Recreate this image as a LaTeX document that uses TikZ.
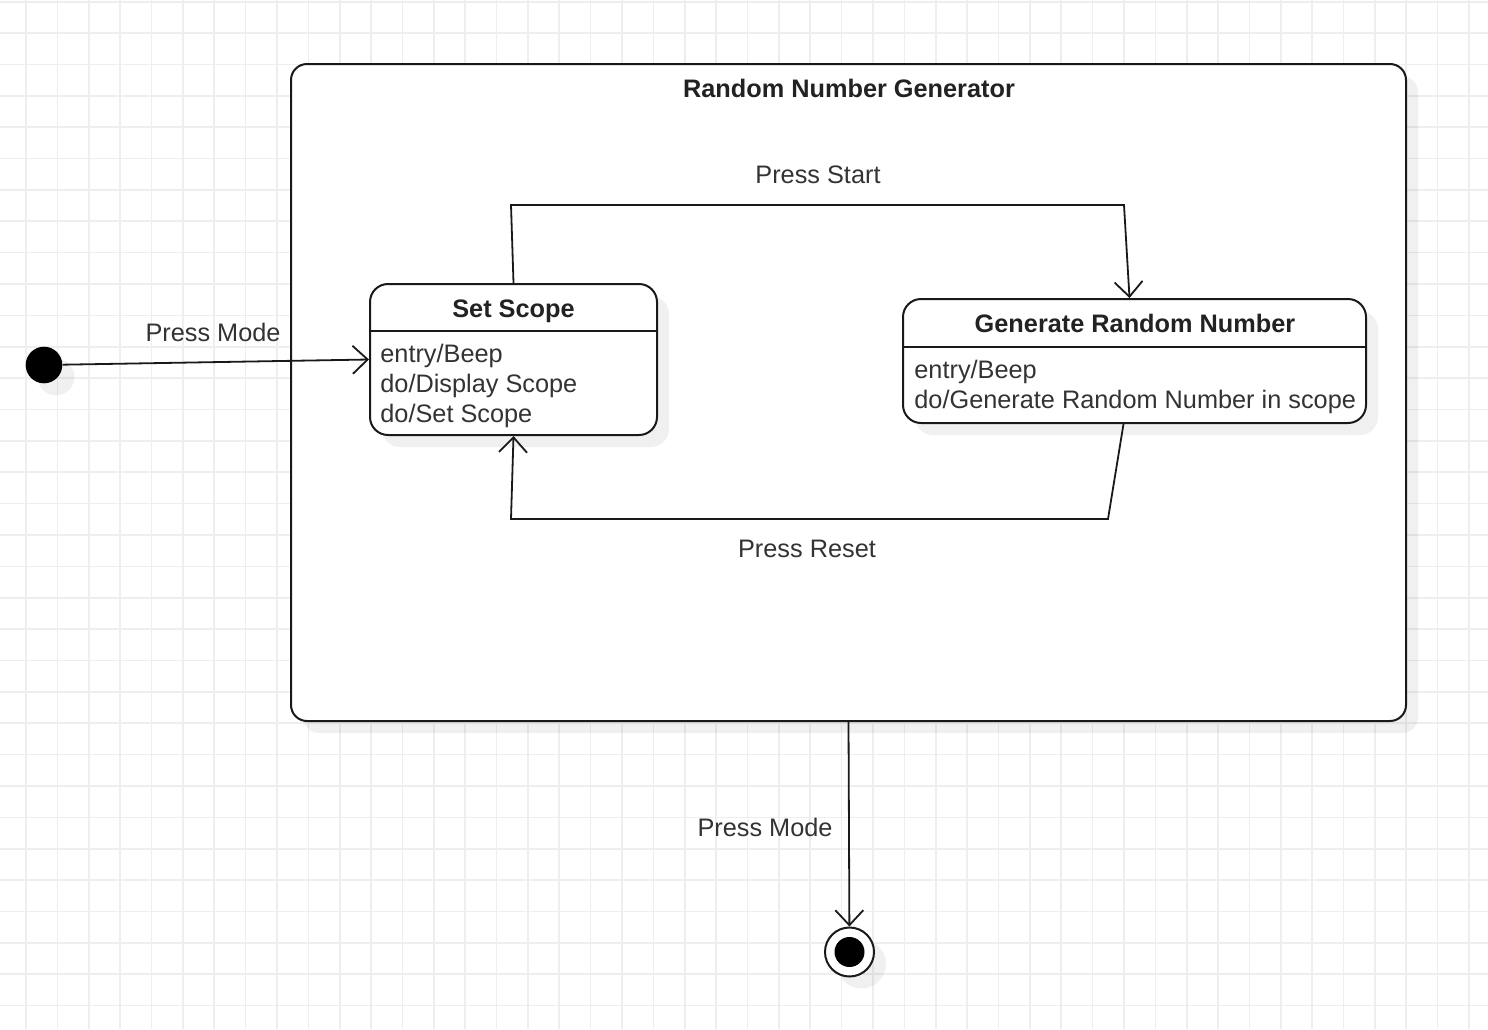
\documentclass[tikz,border=0pt]{standalone}
\usepackage{fontspec}
\setmainfont{Liberation Sans}
\usetikzlibrary{arrows.meta,shadows,calc}
\definecolor{gridc}{RGB}{238,238,238}
\definecolor{linec}{RGB}{25,25,25}
\definecolor{txtc}{RGB}{51,51,51}
\definecolor{ttlc}{RGB}{34,34,34}
\tikzset{
  gridline/.style={draw=gridc, line width=0.8pt},
  myshadow/.style={drop shadow={shadow xshift=6pt, shadow yshift=-6pt, fill=black, opacity=0.06}},
  container/.style={draw=linec, line width=1pt, fill=white, rounded corners=8pt, inner sep=0pt, myshadow},
  statebox/.style={draw=linec, line width=1pt, fill=white, rounded corners=9pt, inner sep=0pt, myshadow},
  divider/.style={draw=linec, line width=1pt},
  ttl/.style={font=\fontsize{12.65pt}{15pt}\selectfont\bfseries, text=ttlc, inner sep=0pt},
  body/.style={font=\fontsize{12.65pt}{15pt}\selectfont, text=txtc, align=left, inner sep=0pt},
  lbl/.style={font=\fontsize{12.65pt}{15pt}\selectfont, text=txtc, inner sep=0pt},
  edge/.style={draw=linec, line width=0.9pt, -{Straight Barb[length=7.5pt, width=14pt, line width=0.9pt]}},
  initst/.style={circle, fill=black, minimum size=18.3pt, inner sep=0pt, myshadow},
  finalst/.style={circle, draw=linec, line width=1pt, fill=white, minimum size=24.5pt, inner sep=0pt, myshadow},
  finalin/.style={circle, fill=black, minimum size=15pt, inner sep=0pt},
}
\begin{document}
\begin{tikzpicture}[x=0.5pt,y=-0.5pt]
\useasboundingbox (0,0) rectangle (1488,1029);
\fill[white] (0,0) rectangle (1488,1029);
\foreach \i in {0,...,46} \draw[gridline] ({26+\i*31.37},0) -- ({26+\i*31.37},1029);
\foreach \j in {0,...,32} \draw[gridline] (0,{1.7+\j*31.37}) -- (1488,{1.7+\j*31.37});

% container
\node[container, minimum width=557.5pt, minimum height=328.5pt] (outer) at (848.5,392.5) {};
\node[ttl] (outertitle) at (849,88) {Random Number Generator};

% Set Scope
\node[statebox, minimum width=143.5pt, minimum height=75.5pt] (ss) at (513.5,359.5) {};
\draw[divider] ($(ss.north west)+(0,48)$) -- ($(ss.north east)+(0,48)$);
\node[ttl] (sst) at (513.5,311) {Set Scope};
\node[body, anchor=west] (ssb) at (380,386) {entry/Beep\\do/Display Scope\\do/Set Scope};

% Generate Random Number
\node[statebox, minimum width=231.5pt, minimum height=62pt] (grn) at (1134.5,361) {};
\draw[divider] ($(grn.north west)+(0,49)$) -- ($(grn.north east)+(0,49)$);
\node[ttl] (grnt) at (1135,323.5) {Generate Random Number};
\node[body, anchor=west] (grnb) at (914,387) {entry/Beep\\do/Generate Random Number in scope};

% initial and final states
\node[initst] (init) at (44,365) {};
\node[finalst] (fin) at (849.5,952) {};
\node[finalin] (finin) at (fin.center) {};

% transitions
\draw[edge] (init) -- (ss.west);
\node[lbl] (l1) at (213,332) {Press Mode};

\coordinate (ps1) at (511,205);
\coordinate (ps2) at (1124,205);
\draw[edge] (ss.north) -- (ps1) -- (ps2) -- ($(grn.north)+(-5,0)$);
\node[lbl] (l2) at (818,175) {Press Start};

\coordinate (pr1) at (1108,519);
\coordinate (pr2) at (511,519);
\draw[edge] ($(grn.south)+(-11,0)$) -- (pr1) -- (pr2) -- (ss.south);
\node[lbl] (l3) at (807,549) {Press Reset};

\draw[edge] (outer.south) -- (fin);
\node[lbl] (l4) at (765,827) {Press Mode};
\end{tikzpicture}
\end{document}
